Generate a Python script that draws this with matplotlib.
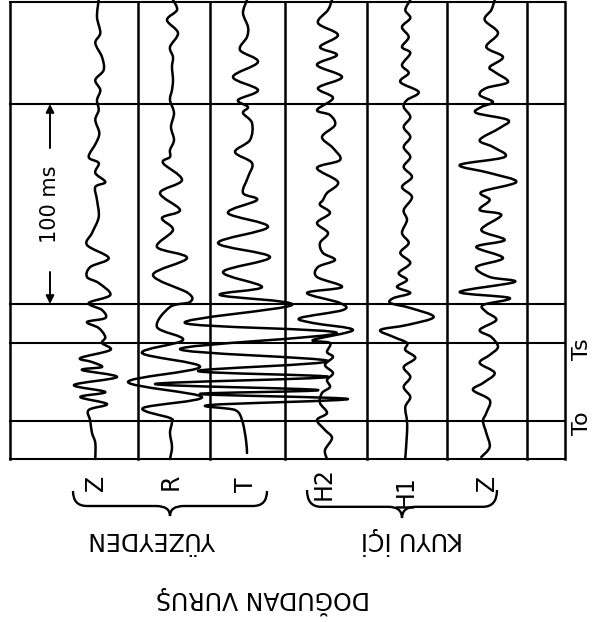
import numpy as np
import matplotlib
matplotlib.use("Agg")
import matplotlib.pyplot as plt
from matplotlib.path import Path
from matplotlib.patches import PathPatch

W, H = 602, 622

# ---- seismogram samples: time after T0 (ms) and trace deflection ----
# surface Z
zs_t = [210.5, 202, 194, 189, 182, 175.5, 170.5, 165.5, 160.5, 155.5, 150.5, 144, 139, 132, 129,
        124, 119.5, 117, 110.5, 102, 94, 88, 81.5, 77, 72, 69, 63, 59, 55.5, 51.5, 49.5, 46.5,
        42, 39, 35.5, 31.5, 29.5, 27, 25.5, 22, 18, 14.5, 12, 8.5, 5.5, 0, -6, -11, -19]
zs_a = [1.7, 0, 3.3, -1.7, 5, 6.7, -1.7, 3.3, 0, 1.7, -1.7, 2.3, -1, -8.3, 1.7, -1.7, 8.3, -1.7,
        0, 1.7, -5, -10, 11.7, -6.7, -10, 1.7, 13.3, -8.3, 5, 8.3, -10, 1.7, 8.3, 5, 13.3, -16.7,
        -5, 5, -15, 20, -23, 8.3, -16.7, 10, -8.3, -6.7, -5, -1.7, -1.7]

# surface R
r_t = [210.5, 205.5, 200.5, 194, 187, 182, 177, 170.5, 165.5, 160.5, 154, 147, 140.5, 135.5, 132,
       129, 120.5, 114, 105.5, 101.5, 95.5, 87, 81.5, 73, 64, 59.5, 57, 47, 40.5, 34, 27, 19.5,
       12, 6.5, 1.5, -0.5, -6, -13, -19]
r_a = [1, 5, -5, 6, -2, 1, 0, 1, 0, -2, 2, -1, 2, -2, -2, -9, 10, -12, 8, -10, 1, -15, 15, -19,
       16, 18, -2, -15, 11, -30, 28, -44, 30, -29, -2, 0, -2, 0, -2]

# surface T
tt_t = [210.5, 204, 197, 192, 185.5, 179.5, 172, 165.5, 160.5, 157, 154, 149, 140.5, 134.5, 129,
        122, 114, 110.5, 104, 97, 89, 82, 74.5, 67, 63, 58, 49, 44, 36, 30, 25, 22, 18.5, 15.5,
        13.5, 11, 8, 5.5, 0.5, -9.5, -16]
tt_a = [0, -4, 1, 0, -7, 11, -14, 11, -9, 1, -4, 5, 3, -12, 5, 1, -4, 10, -19, 21, -29, 23, -24,
        15, -27, 45, -62, 90, -67, 81, -49, 81, -92, 71, -47, 101, -37, -12, -5, -1, 0]

# borehole H2
h2_t = [210.5, 205.5, 199, 193, 187, 183, 178, 172, 166.5, 161.5, 155.5, 153, 148, 142, 136.5,
        130.5, 126.5, 119.5, 114, 110.5, 108, 104, 99, 94, 89, 84, 80.5, 77, 72, 67, 64, 59, 55.5,
        51.5, 49, 45.5, 40.5, 39, 34.5, 32, 28, 24, 20.5, 17, 14, 9, 4, 0.5, -4.5, -8.5, -14.5, -19]
h2_a = [7, 3, -7, 13, -5, 12, -8, 17, -7, 8, -8, 5, 10, -3, 8, 15, -8, 13, 2, -2, -5, 5, -8, 3,
        -5, -2, 10, -7, -8, 17, -18, 15, 18, -25, -12, 28, -12, 5, 2, 8, 0, 8, 2, 5, -3, -5, 2,
        -8, 0, 7, 0, 2]

# borehole H1
h1_t = [210.5, 205.5, 201.5, 197, 192, 187, 184, 178, 174, 169.5, 164.5, 160.5, 157, 152, 147,
        142, 137, 132, 127, 122, 117, 112, 105.5, 100.5, 94, 89, 84, 79, 74, 70.5, 67, 64, 61.5,
        59, 56.5, 52, 48, 45.5, 42, 39, 35.5, 31.5, 27, 22, 17, 12, 7, 0, -6, -18.5]
h1_a = [3.3, -1.7, 3.3, -5, 1.7, -5, 3.3, -5, 1.7, -6.7, 11.7, 0, -3.3, 3.3, -3.3, 3.3, -3.3,
        3.3, -3.3, 5, -5, 5, -3.3, 0, -5, 1.7, -6.7, 3.3, -8.3, 0, -10, 3.3, -13.3, -16.7, 3.3,
        26.7, 0, -26.7, -13.3, 0, -1.7, 8.3, -3.3, 3.3, -3.3, 3.3, -1.7, 0, 0, -1.7]

# borehole Z
zw_t = [210.5, 205.5, 200.5, 194, 187, 182, 177, 174.5, 169.5, 166.5, 163, 159.5, 157, 154, 150.5,
        146.5, 140.5, 137, 132, 128, 124, 119.5, 114.5, 110.5, 105.5, 103, 95.5, 90.5, 87, 81.5,
        77, 72, 69.5, 64.5, 61.5, 58, 54.5, 50.5, 45.5, 42, 37, 33, 29, 24, 19, 15.5, 10.5, 4, 0,
        -6, -13, -18]
zw_a = [6.7, 3.3, -3.3, 10, -1.7, 15, 1.7, 6.7, 20, -1.7, -8.3, 5, -6.7, -11.7, 20, 11.7, -8.3,
        5, 16.7, -28.3, 1.7, 28.3, -6.7, 1.7, -8.3, 13.3, -6.7, 16.7, -11.7, 15, -11.7, 1.7, 26.7,
        -28.3, 21.7, -5, -1.7, 8.3, -8.3, 3.3, 10, 1.7, -8.3, 6.7, -5, -15, 1.7, -1.7, -5, -1.7,
        1.7, -6.7]

trace_labels = ["Z", "R", "T", "H2", "H1", "Z"]
group_labels = ["YÜZEYDEN", "KUYU İÇİ"]
title = "DOĞUDAN VURUŞ"
scale_label = "100 ms"
t_s = 39.0            # Ts line (ms)
scale_start = 58.5    # start of the 100 ms bar

# ---- layout ----
cols = [10, 138, 210, 285, 367, 447, 527, 565]
bases = [97, 172, 247, 325, 407, 488]
t_min, t_max = -19.0, 209.5

fig = plt.figure(figsize=(W / 100, H / 100), dpi=100)
fig.patch.set_facecolor("white")
ax = fig.add_axes([cols[0] / W, 1 - 459 / H, (cols[-1] - cols[0]) / W, 457 / H])
ax.set_xlim(cols[0], cols[-1])
ax.set_ylim(t_min, t_max)
ax.axis("off")

# grid of the record sheet
for x in cols:
    ax.plot([x, x], [t_min, t_max], color="k", lw=1.8, clip_on=False)
for t in [t_min, 0.0, t_s, scale_start, scale_start + 100, t_max]:
    ax.plot([cols[0], cols[-1]], [t, t], color="k", lw=1.5, clip_on=False)


def pen_path(x, y):
    """Smooth pen stroke through the samples (Catmull-Rom as cubic Bezier)."""
    p = np.column_stack([x, y]).astype(float)
    ext = np.vstack([p[0], p, p[-1]])
    verts = [p[0]]
    codes = [Path.MOVETO]
    for i in range(1, len(ext) - 2):
        p0, p1, p2, p3 = ext[i - 1], ext[i], ext[i + 1], ext[i + 2]
        verts += [p1 + (p2 - p0) / 6, p2 - (p3 - p1) / 6, p2]
        codes += [Path.CURVE4] * 3
    return Path(verts, codes)


# traces
series = [(zs_t, zs_a), (r_t, r_a), (tt_t, tt_a), (h2_t, h2_a), (h1_t, h1_a), (zw_t, zw_a)]
for base, (ts, amps) in zip(bases, series):
    ax.add_patch(PathPatch(pen_path(base + np.asarray(amps), ts), fill=False,
                           lw=1.8, edgecolor="k", joinstyle="round", capstyle="round",
                           clip_on=False))

# 100 ms scale bar
mid = scale_start + 50
ax.text(50, mid, scale_label, rotation=90, ha="center", va="center", fontsize=15)
arrow = dict(arrowstyle="-|>", color="k", lw=1.4, mutation_scale=12, shrinkA=0, shrinkB=0)
ax.annotate("", xy=(50, scale_start + 100), xytext=(50, mid + 28), arrowprops=arrow)
ax.annotate("", xy=(50, scale_start), xytext=(50, mid - 34), arrowprops=arrow)

# overlay in pixel coordinates for labels and braces
ov = fig.add_axes([0, 0, 1, 1], facecolor="none")
ov.set_xlim(0, W)
ov.set_ylim(H, 0)
ov.axis("off")

ov.text(582, 423, "To", rotation=90, ha="center", va="center", fontsize=16)
ov.text(582, 349, "Ts", rotation=90, ha="center", va="center", fontsize=16)

label_y = [483, 482, 485, 484, 492, 483]
for x, y, s in zip(bases, label_y, trace_labels):
    ov.text(x - 1, y, s, rotation=90, ha="center", va="center", fontsize=17)


def brace(axis, x0, x1, y0, depth, r=14):
    xm = (x0 + x1) / 2
    ym = y0 + depth * 0.6
    verts = [(x0, y0), (x0, ym), (x0 + r, ym),
             (xm - r, ym), (xm, ym), (xm, y0 + depth),
             (xm, ym), (xm + r, ym),
             (x1 - r, ym), (x1, ym), (x1, y0)]
    codes = [Path.MOVETO, Path.CURVE3, Path.CURVE3,
             Path.LINETO, Path.CURVE3, Path.CURVE3,
             Path.CURVE3, Path.CURVE3,
             Path.LINETO, Path.CURVE3, Path.CURVE3]
    axis.add_patch(PathPatch(Path(verts, codes), fill=False, lw=1.7, edgecolor="k"))


brace(ov, 73, 267, 491, 25)
brace(ov, 307, 497, 490, 28)

ov.text(152, 539, group_labels[0], rotation=180, ha="center", va="center", fontsize=17)
ov.text(412, 541, group_labels[1], rotation=180, ha="center", va="center", fontsize=17)
ov.text(263, 600, title, rotation=180, ha="center", va="center", fontsize=17)

fig.savefig("out.png", dpi=100, facecolor="white")
